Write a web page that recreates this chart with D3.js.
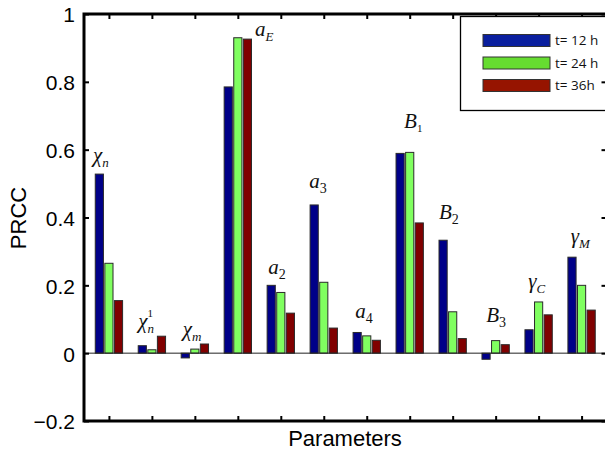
<!DOCTYPE html>
<html>
<head>
<meta charset="utf-8">
<script src="https://cdn.jsdelivr.net/npm/d3@7"></script>
<style>
  html, body { margin: 0; padding: 0; background: #fff; }
  svg { display: block; }
</style>
</head>
<body>
<svg id="chart" width="605" height="451"></svg>
<script>
// Parameters on the x axis, one group of three bars each
const categories = ["χn", "χn1", "χm", "aE", "a2", "a3", "a4", "B1", "B2", "B3", "γC", "γM"];

// PRCC values for each time point
const prcc12 = [0.528, 0.022, -0.014, 0.785, 0.200, 0.437, 0.061, 0.589, 0.333, -0.018, 0.069, 0.283];
const prcc24 = [0.265, 0.010, 0.012, 0.930, 0.179, 0.209, 0.051, 0.592, 0.122, 0.037, 0.151, 0.200];
const prcc36 = [0.155, 0.050, 0.027, 0.926, 0.118, 0.074, 0.038, 0.384, 0.043, 0.025, 0.113, 0.127];

const seriesNames = ["t= 12 h", "t= 24 h", "t= 36h"];
const yTickValues = [-0.2, 0, 0.2, 0.4, 0.6, 0.8, 1];
const yTickLabels = ["\u22120.2", "0", "0.2", "0.4", "0.6", "0.8", "1"];

// Parameter names placed in data coordinates (main glyph, subscript, superscript)
const annotations = [
  { x: 0.63, y: 0.563, main: "χ", sub: "n", subItalic: true },
  { x: 1.68, y: 0.074, main: "χ", sub: "n", subItalic: true, sup: "1" },
  { x: 2.72, y: 0.051, main: "χ", sub: "m", subItalic: true },
  { x: 4.40, y: 0.936, main: "a", sub: "E", subItalic: true },
  { x: 4.71, y: 0.232, main: "a", sub: "2" },
  { x: 5.66, y: 0.488, main: "a", sub: "3" },
  { x: 6.73, y: 0.105, main: "a", sub: "4" },
  { x: 7.87, y: 0.663, main: "B", sub: "1", small: true },
  { x: 8.68, y: 0.397, main: "B", sub: "2" },
  { x: 9.78, y: 0.091, main: "B", sub: "3" },
  { x: 10.76, y: 0.192, main: "γ", sub: "C", subItalic: true },
  { x: 11.75, y: 0.324, main: "γ", sub: "M", subItalic: true }
];

const series = [prcc12, prcc24, prcc36];
const barColors = ["#000088", "#80ff60", "#800000"];
const legendColors = ["#0a1f9e", "#66dd30", "#961400"];

const svg = d3.select("#chart");
const plotLeft = 84, plotRight = 606.5, plotTop = 14, plotBottom = 421;
const rightSpine = 607.5;

const x = d3.scaleLinear().domain([0.42, 12.58]).range([plotLeft, plotRight]);
const y = d3.scaleLinear().domain([-0.2, 1]).range([plotBottom, plotTop]);

const barStep = 0.223, barWidth = 0.19;

// Bars
const g = svg.append("g");
series.forEach((vals, s) => {
  g.selectAll(null)
    .data(vals)
    .enter()
    .append("rect")
    .attr("x", (d, i) => x(i + 1 + (s - 1) * barStep - barWidth / 2))
    .attr("width", x(barWidth) - x(0))
    .attr("y", d => y(Math.max(0, d)))
    .attr("height", d => Math.abs(y(d) - y(0)))
    .attr("fill", barColors[s])
    .attr("stroke", "#2a2a2a")
    .attr("stroke-width", 1);
});

// Baseline at zero
svg.append("line")
  .attr("x1", plotLeft).attr("x2", 605)
  .attr("y1", y(0)).attr("y2", y(0))
  .attr("stroke", "#222").attr("stroke-width", 1);

// Axes: ticks drawn inward on every side
const catTicks = d3.range(1, categories.length + 1);
const axisStyle = sel => {
  sel.select(".domain").remove();
  sel.selectAll(".tick line").attr("stroke", "#000").attr("stroke-width", 2);
};
svg.append("g").attr("transform", `translate(0,${plotBottom})`)
  .call(d3.axisBottom(x).tickValues(catTicks).tickSize(-5).tickFormat(""))
  .call(axisStyle);
svg.append("g").attr("transform", `translate(0,${plotTop})`)
  .call(d3.axisTop(x).tickValues(catTicks).tickSize(-5).tickFormat(""))
  .call(axisStyle);
const yAxis = svg.append("g").attr("transform", `translate(${plotLeft},0)`)
  .call(d3.axisLeft(y).tickValues(yTickValues).tickSize(-5).tickPadding(9)
    .tickFormat((d, i) => yTickLabels[i]))
  .call(axisStyle);
yAxis.selectAll(".tick text")
  .attr("font-family", "Liberation Sans, Arial, sans-serif")
  .attr("font-size", 21)
  .attr("fill", "#000")
  .attr("dy", "0.38em");

// Box spines
svg.append("path")
  .attr("d", `M${plotLeft},${plotBottom}V${plotTop}H${rightSpine}V${plotBottom}Z`)
  .attr("fill", "none").attr("stroke", "#000").attr("stroke-width", 3);

// Axis titles
svg.append("text")
  .attr("x", 345).attr("y", 446)
  .attr("text-anchor", "middle")
  .attr("font-family", "Liberation Sans, Arial, sans-serif")
  .attr("font-size", 22)
  .text("Parameters");
svg.append("text")
  .attr("transform", "translate(26,218) rotate(-90)")
  .attr("text-anchor", "middle")
  .attr("font-family", "Liberation Sans, Arial, sans-serif")
  .attr("font-size", 22)
  .text("PRCC");

// Parameter name labels
const serif = "Liberation Serif, Times New Roman, serif";
annotations.forEach(a => {
  const px = x(a.x), py = y(a.y);
  const t = svg.append("text")
    .attr("x", px).attr("y", py)
    .attr("font-family", serif)
    .attr("font-style", "italic")
    .attr("font-size", 21)
    .attr("fill", "#111")
    .text(a.main);
  const w = t.node().getComputedTextLength();
  svg.append("text")
    .attr("x", px + w)
    .attr("y", py + (a.small ? 4 : 5))
    .attr("font-family", serif)
    .attr("font-style", a.subItalic ? "italic" : "normal")
    .attr("font-size", a.small ? 11 : (a.subItalic ? 13 : 14))
    .attr("fill", "#111")
    .text(a.sub);
  if (a.sup) {
    svg.append("text")
      .attr("x", px + w)
      .attr("y", py - 11)
      .attr("font-family", serif)
      .attr("font-size", 11)
      .attr("fill", "#111")
      .text(a.sup);
  }
});

// Legend
const legend = svg.append("g");
legend.append("rect")
  .attr("x", 460.5).attr("y", 16.5)
  .attr("width", 160).attr("height", 94)
  .attr("fill", "#fff")
  .attr("stroke", "#000").attr("stroke-width", 1.3);
seriesNames.forEach((name, i) => {
  const yy = 34.5 + i * 22.5;
  legend.append("rect")
    .attr("x", 483).attr("y", yy)
    .attr("width", 67).attr("height", 12)
    .attr("fill", legendColors[i])
    .attr("stroke", "#333").attr("stroke-width", 1);
  legend.append("text")
    .attr("x", 555).attr("y", yy + 10.5)
    .attr("font-family", "Open Sans, sans-serif")
    .attr("font-size", 13.5)
    .attr("fill", "#111")
    .text(name);
});

// Right-axis ticks, drawn last so the one at 0.8 shows over the legend
svg.append("g").attr("transform", `translate(${rightSpine},0)`)
  .call(d3.axisRight(y).tickValues(yTickValues).tickSize(-6).tickFormat(""))
  .call(axisStyle);
</script>
</body>
</html>
